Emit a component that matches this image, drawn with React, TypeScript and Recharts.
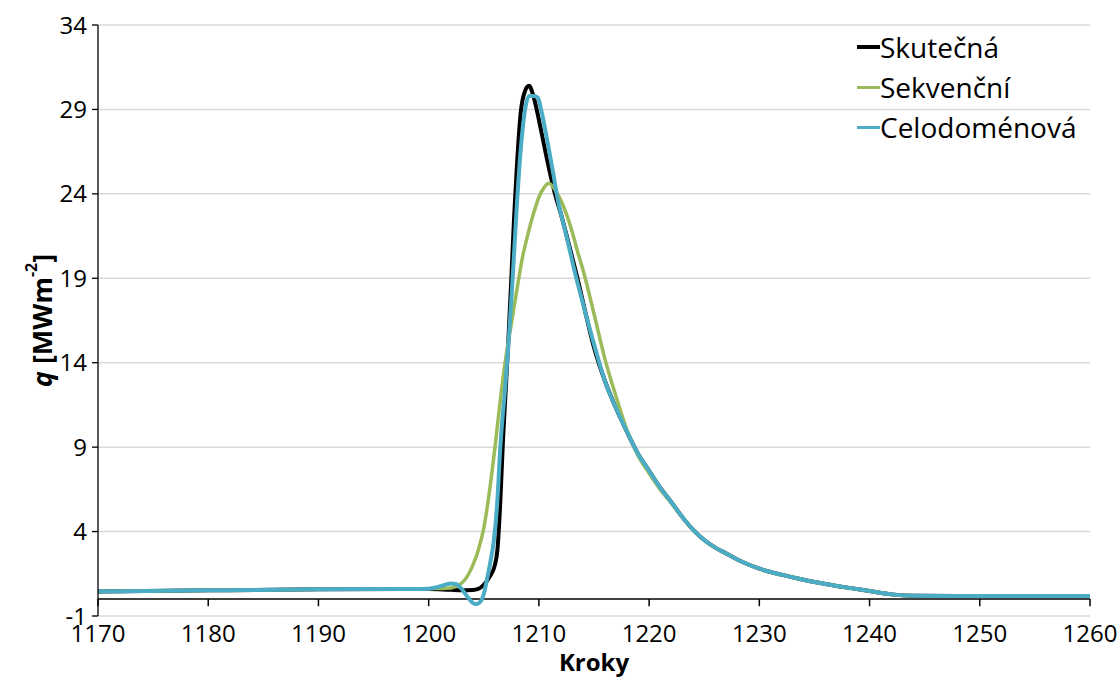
import React from 'react';
import { LineChart, Line, XAxis, YAxis, CartesianGrid, ReferenceLine } from 'recharts';

const xTicks = [1170, 1180, 1190, 1200, 1210, 1220, 1230, 1240, 1250, 1260];
const yTicks = [-1, 4, 9, 14, 19, 24, 29, 34];

const seriesNames = ['Skutečná', 'Sekvenční', 'Celodoménová'];
const seriesColors = ['#000000', '#9BBB59', '#4BACC6'];

const skutecnaKroky = [1170, 1180, 1190, 1198, 1200, 1202, 1203, 1204, 1204.5, 1205, 1205.5, 1206, 1206.25, 1206.5, 1206.75, 1207, 1207.25, 1207.5, 1207.75, 1208, 1208.35, 1208.75, 1209.1, 1209.5, 1209.8, 1210.25, 1210.75, 1211.5, 1212, 1213, 1213.5, 1214, 1215, 1216, 1217, 1218, 1219, 1220, 1221, 1222, 1223, 1224, 1225, 1226, 1227, 1228, 1230, 1232, 1234, 1236, 1238, 1240, 1242, 1244, 1250, 1260];
const skutecnaQ = [0.45, 0.52, 0.58, 0.6, 0.6, 0.55, 0.53, 0.54, 0.6, 0.85, 1.3, 2.0, 3.0, 5.8, 9.5, 12.5, 15.6, 19.0, 22.6, 25.6, 28.8, 30.1, 30.4, 29.8, 29.0, 27.6, 26.0, 23.9, 22.8, 20.3, 19.0, 17.6, 14.9, 12.9, 11.3, 9.9, 8.6, 7.6, 6.6, 5.75, 4.87, 4.1, 3.5, 3.05, 2.7, 2.35, 1.8, 1.45, 1.15, 0.9, 0.68, 0.48, 0.28, 0.2, 0.18, 0.18];

const sekvencniKroky = [1170, 1180, 1190, 1198, 1200, 1201, 1202, 1202.5, 1203, 1203.5, 1204, 1204.5, 1205, 1205.5, 1206, 1206.5, 1207, 1207.5, 1208, 1208.5, 1209, 1209.5, 1210, 1210.5, 1210.9, 1211.5, 1212, 1212.5, 1213, 1213.5, 1214, 1215, 1216, 1217, 1218, 1219, 1220, 1221, 1222, 1223, 1224, 1225, 1226, 1227, 1228, 1230, 1232, 1234, 1236, 1238, 1240, 1242, 1244, 1250, 1260];
const sekvencniQ = [0.45, 0.52, 0.58, 0.6, 0.62, 0.63, 0.66, 0.75, 0.95, 1.35, 2.0, 2.9, 4.2, 6.3, 8.9, 11.8, 14.3, 16.3, 18.3, 20.2, 21.6, 22.8, 23.8, 24.4, 24.63, 24.2, 23.6, 22.8, 21.8, 20.6, 19.5, 16.9, 14.2, 12.0, 10.0, 8.5, 7.45, 6.5, 5.7, 4.85, 4.1, 3.5, 3.05, 2.7, 2.35, 1.8, 1.45, 1.15, 0.9, 0.68, 0.48, 0.28, 0.2, 0.18, 0.18];

const celodomenovaKroky = [1170, 1180, 1190, 1198, 1200, 1201, 1202, 1202.5, 1203, 1203.5, 1204, 1204.3, 1204.7, 1205, 1205.3, 1205.6, 1205.9, 1206.2, 1206.5, 1207, 1207.25, 1207.5, 1207.75, 1208, 1208.35, 1208.75, 1209.1, 1209.5, 1209.9, 1210.2, 1210.75, 1211.25, 1211.7, 1212.5, 1213.4, 1214, 1215, 1216, 1217, 1218, 1219, 1220, 1221, 1222, 1223, 1224, 1225, 1226, 1227, 1228, 1230, 1232, 1234, 1236, 1238, 1240, 1242, 1244, 1250, 1260];
const celodomenovaQ = [0.45, 0.52, 0.58, 0.6, 0.62, 0.75, 0.93, 0.88, 0.6, 0.15, -0.22, -0.3, -0.15, 0.3, 1.2, 2.2, 3.4, 5.5, 9.0, 13.0, 15.2, 17.7, 20.5, 23.3, 26.6, 29.0, 29.8, 29.8, 29.7, 29.0, 27.2, 25.4, 23.7, 21.5, 19.0, 17.5, 15.1, 12.9, 11.3, 9.9, 8.6, 7.6, 6.6, 5.75, 4.87, 4.1, 3.5, 3.05, 2.7, 2.35, 1.8, 1.45, 1.15, 0.9, 0.68, 0.48, 0.28, 0.2, 0.18, 0.18];

const toPoints = (xs: number[], qs: number[]) => xs.map((x, i) => ({ kroky: x, q: qs[i] }));

const seriesData = [
  toPoints(skutecnaKroky, skutecnaQ),
  toPoints(sekvencniKroky, sekvencniQ),
  toPoints(celodomenovaKroky, celodomenovaQ),
];
const seriesWidths = [4, 3.5, 4];

const FONT = '"Open Sans", "DejaVu Sans", sans-serif';

const YLabel = (props: any) => {
  const vb = props.viewBox || { y: 25, height: 591 };
  const cx = 41;
  const cy = vb.y + vb.height / 2;
  return (
    <text
      x={cx}
      y={cy}
      transform={`rotate(-90 ${cx} ${cy})`}
      textAnchor="middle"
      dominantBaseline="central"
      fontFamily={FONT}
      fontSize={27}
      fontWeight="bold"
      fill="#000"
    >
      <tspan fontStyle="italic">q</tspan>
      <tspan> [MWm</tspan>
      <tspan fontSize={16} dy={-10}>-2</tspan>
      <tspan dy={10}>]</tspan>
    </text>
  );
};

export default function App() {
  return (
    <div style={{ position: 'absolute', left: 0, top: 0, width: 1118, height: 677, background: '#fff', fontFamily: FONT }}>
      <LineChart width={1118} height={677} margin={{ top: 25, right: 28, bottom: 0, left: 38 }}>
        <CartesianGrid horizontal vertical={false} stroke="#D9D9D9" strokeWidth={1.5} />
        <XAxis
          type="number"
          dataKey="kroky"
          domain={[1170, 1260]}
          ticks={xTicks}
          interval={0}
          allowDataOverflow
          axisLine={false}
          tickLine={false}
          tickSize={0}
          tickMargin={9}
          height={61}
          tick={{ fontSize: 24, fill: '#000', fontFamily: FONT }}
          label={{ value: 'Kroky', position: 'insideBottom', offset: 6, fontSize: 24, fontWeight: 'bold', fill: '#000', fontFamily: FONT }}
        />
        <YAxis
          type="number"
          domain={[-1, 34]}
          ticks={yTicks}
          interval={0}
          allowDataOverflow
          width={60}
          axisLine={{ stroke: '#000', strokeWidth: 1.3 }}
          tickLine={{ stroke: '#000', strokeWidth: 1.3 }}
          tickSize={6}
          tickMargin={5}
          tick={{ fontSize: 24, fill: '#000', fontFamily: FONT }}
          label={<YLabel />}
        />
        <ReferenceLine y={0} stroke="#000" strokeWidth={1.5} ifOverflow="visible" />
        {xTicks.map((t) => (
          <ReferenceLine
            key={`tk-${t}`}
            segment={[{ x: t, y: 0 }, { x: t, y: -0.42 }]}
            stroke="#000"
            strokeWidth={1.5}
            ifOverflow="visible"
          />
        ))}
        {seriesData.map((d, i) => (
          <Line
            key={seriesNames[i]}
            data={d}
            dataKey="q"
            name={seriesNames[i]}
            type="monotone"
            stroke={seriesColors[i]}
            strokeWidth={seriesWidths[i]}
            dot={false}
            activeDot={false}
            isAnimationActive={false}
          />
        ))}
      </LineChart>
      <div style={{ position: 'absolute', left: 857, top: 27 }}>
        {seriesNames.map((n, i) => (
          <div key={n} style={{ display: 'flex', alignItems: 'center', height: 40 }}>
            <span style={{ display: 'inline-block', width: 23, height: i === 0 ? 4 : 3, background: seriesColors[i] }} />
            <span style={{ fontSize: 28, color: '#000', fontFamily: FONT, lineHeight: '40px', whiteSpace: 'nowrap' }}>{n}</span>
          </div>
        ))}
      </div>
    </div>
  );
}
